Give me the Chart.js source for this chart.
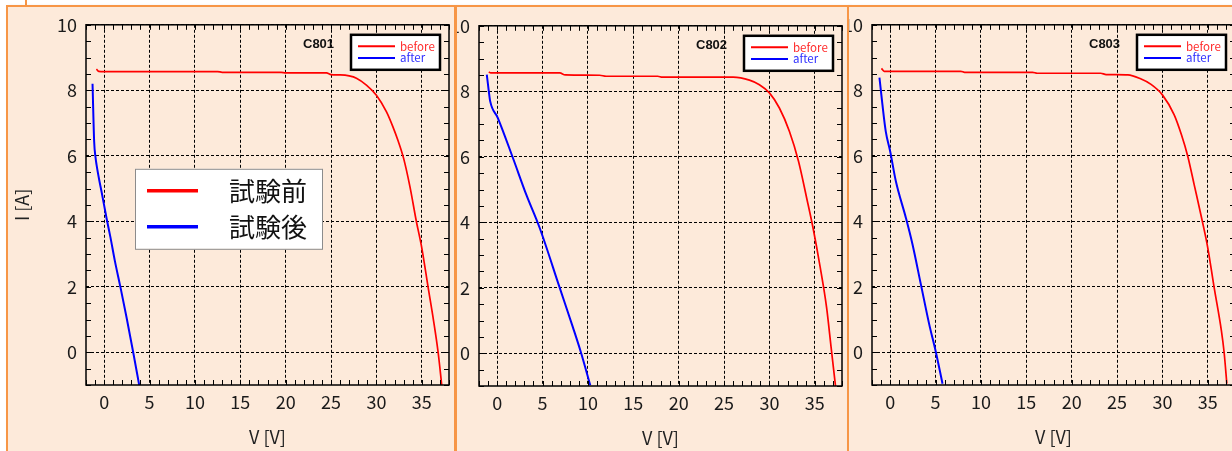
<!DOCTYPE html>
<html>
<head>
<meta charset="utf-8">
<script src="https://cdn.jsdelivr.net/npm/chart.js@4.4.1/dist/chart.umd.min.js"></script>
<style>
  html, body { margin: 0; padding: 0; background: #fff; width: 1232px; height: 451px; overflow: hidden; }
  .panel { position: absolute; top: 5px; height: 460px; box-sizing: border-box; border: 2px solid #F79646;
           background: #FDEADA; overflow: hidden; box-shadow: 2px 1px 3px rgba(0,0,0,0.12); }
  .panel canvas { position: absolute; }
  #stub { position: absolute; left: 25px; top: 0; width: 2px; height: 6px; background: #F79646; }
</style>
</head>
<body>
<div id="stub"></div>
<div class="panel" style="left:6px;width:450px;"><canvas id="c801" width="450" height="446" style="left:-2px;top:-2px;"></canvas></div>
<div class="panel" style="left:455px;width:394px;"><canvas id="c802" width="450" height="446" style="left:-58px;top:-1px;"></canvas></div>
<div class="panel" style="left:847px;width:400px;"><canvas id="c803" width="450" height="446" style="left:-57px;top:-2px;"></canvas></div>
<script>
// Axis ranges, tick values and labels
const vRange = [-2, 38];
const iRange = [-1, 10];
const vTicks = [0, 5, 10, 15, 20, 25, 30, 35];
const iTicks = [0, 2, 4, 6, 8, 10];
const vTitle = 'V [V]';
const iTitle = 'I [A]';
const panelNames = ['C801', 'C802', 'C803'];
const seriesNames = ['before', 'after'];
const jpSeriesNames = ['試験前', '試験後'];

// C801 I-V curves
const v801Before = [-0.85, -0.6, 0, 5, 10, 12.5, 13, 19.5, 20, 24.5, 25, 26, 27, 27.8, 28.9, 30.0, 31.1, 31.8, 32.4, 33.0, 33.7, 34.4, 35.0, 35.7, 36.3, 36.8, 37.2];
const i801Before = [8.65, 8.58, 8.57, 8.57, 8.57, 8.57, 8.55, 8.55, 8.53, 8.53, 8.48, 8.47, 8.44, 8.37, 8.16, 7.85, 7.35, 6.9, 6.45, 5.92, 5.05, 4.0, 3.19, 1.98, 0.96, 0.0, -1.0];
const v801After = [-1.28, -1.1, -0.95, -0.84, -0.5, -0.29, 0.26, 0.7, 1.18, 1.8, 2.47, 3.2, 3.86];
const i801After = [8.2, 6.43, 5.95, 5.73, 5.2, 4.91, 4.1, 3.5, 2.79, 1.98, 1.06, 0.0, -1.0];

// C802 I-V curves
const v802Before = [-0.92, -0.7, 6.9, 7.5, 11.3, 12, 17.7, 18.2, 26, 27.8, 28.9, 30.0, 31.1, 32.2, 33.2, 34.1, 34.8, 35.6, 36.3, 36.8, 37.3];
const i802Before = [8.59, 8.56, 8.56, 8.5, 8.49, 8.46, 8.46, 8.43, 8.43, 8.34, 8.2, 7.95, 7.49, 6.78, 5.87, 4.75, 3.84, 2.62, 1.40, 0.18, -1.04];
const v802After = [-1.14, -0.92, -0.77, 0.07, 1.73, 3.2, 4.67, 6.88, 8.35, 9.26, 10.26];
const i802After = [8.51, 8.0, 7.7, 7.19, 5.97, 4.85, 3.84, 2.01, 0.79, 0.0, -0.98];

// C803 I-V curves
const v803Before = [-0.96, -0.66, 7.8, 8.2, 15.7, 16.2, 23.2, 23.8, 26.2, 27.6, 28.75, 30.0, 31.3, 32.1, 32.8, 33.5, 34.4, 35.0, 35.7, 36.5, 36.8, 37.1];
const i803Before = [8.67, 8.58, 8.58, 8.55, 8.55, 8.52, 8.52, 8.48, 8.47, 8.35, 8.18, 7.86, 7.25, 6.64, 5.98, 5.12, 4.0, 3.19, 1.98, 0.66, 0.0, -0.96];
const v803After = [-1.18, -0.85, -0.48, 0, 0.63, 1.73, 2.46, 3.38, 4.3, 5.04, 5.77];
const i803After = [8.39, 7.56, 6.74, 6.14, 5.22, 4.11, 3.3, 2.08, 0.86, 0.0, -0.96];

const FONT = '"Noto Sans CJK JP", "Liberation Sans", sans-serif';
const RED = '#ff0000';
const BLUE = '#0000ff';

function toPoints(vs, is) {
  return vs.map((v, k) => ({ x: v, y: is[k] }));
}

// Inner tick marks, plot frame, curve name and legends
const frameDecor = {
  id: 'frameDecor',
  afterDraw(chart, args, o) {
    const { ctx, chartArea: a, scales: { x, y } } = chart;
    ctx.save();
    ctx.strokeStyle = '#000';
    ctx.lineWidth = 1;
    ctx.beginPath();
    for (let v = Math.ceil(x.min); v <= x.max + 1e-9; v += o.vMinor) {
      const p = Math.round(x.getPixelForValue(v)) + 0.5;
      ctx.moveTo(p, a.bottom); ctx.lineTo(p, a.bottom - o.tickLen);
      ctx.moveTo(p, a.top); ctx.lineTo(p, a.top + o.tickLen);
    }
    for (let v = y.min; v <= y.max + 1e-9; v += o.iMinor) {
      const p = Math.round(y.getPixelForValue(v)) + 0.5;
      ctx.moveTo(a.left, p); ctx.lineTo(a.left + o.tickLen, p);
      ctx.moveTo(a.right, p); ctx.lineTo(a.right - o.tickLen, p);
    }
    ctx.stroke();
    ctx.lineWidth = 1.5;
    ctx.strokeRect(a.left, a.top, a.right - a.left, a.bottom - a.top);

    // curve name
    ctx.font = 'bold 13px "Liberation Sans", Arial, sans-serif';
    ctx.fillStyle = '#111';
    ctx.textAlign = 'left';
    ctx.textBaseline = 'middle';
    ctx.fillText(o.name, a.left + 217, a.top + 20);

    // small legend
    const bx = a.left + 265, by = a.top + 10;
    ctx.fillStyle = '#fff';
    ctx.fillRect(bx, by, 89, 35);
    ctx.lineWidth = 2.5;
    ctx.strokeStyle = '#000';
    ctx.strokeRect(bx, by, 89, 35);
    ctx.font = '11.5px ' + FONT;
    chart.data.datasets.forEach((ds, k) => {
      const ly = a.top + 21.5 + k * 11.7;
      ctx.strokeStyle = ds.borderColor;
      ctx.lineWidth = 2;
      ctx.beginPath();
      ctx.moveTo(a.left + 272, ly); ctx.lineTo(a.left + 309, ly);
      ctx.stroke();
      ctx.fillStyle = ds.labelColor;
      ctx.fillText(ds.label, a.left + 314, ly);
    });

    // Japanese legend
    if (o.bigLegend) {
      const gx = a.left + 49, gy = a.top + 144;
      ctx.fillStyle = '#fff';
      ctx.fillRect(gx, gy, 187, 80);
      ctx.lineWidth = 1;
      ctx.strokeStyle = '#8c8c8c';
      ctx.strokeRect(gx + 0.5, gy + 0.5, 187, 80);
      ctx.font = '26px ' + FONT;
      chart.data.datasets.forEach((ds, k) => {
        const ly = a.top + 166 + k * 36;
        ctx.strokeStyle = ds.borderColor;
        ctx.lineWidth = 3.5;
        ctx.beginPath();
        ctx.moveTo(a.left + 61, ly); ctx.lineTo(a.left + 112, ly);
        ctx.stroke();
        ctx.fillStyle = '#111';
        ctx.fillText(jpSeriesNames[k], a.left + 143, ly);
      });
    }
    ctx.restore();
  }
};

function makeChart(id, name, vb, ib, va, ia, bigLegend) {
  const tickFont = { family: FONT, size: 18 };
  return new Chart(document.getElementById(id), {
    type: 'scatter',
    data: {
      datasets: [
        { label: seriesNames[0], data: toPoints(vb, ib), showLine: true, borderColor: RED, labelColor: '#ff2a2a',
          borderWidth: 1.7, pointRadius: 0, cubicInterpolationMode: 'monotone' },
        { label: seriesNames[1], data: toPoints(va, ia), showLine: true, borderColor: BLUE, labelColor: '#3030ff',
          borderWidth: 2, pointRadius: 0, cubicInterpolationMode: 'monotone' }
      ]
    },
    options: {
      responsive: false,
      animation: false,
      devicePixelRatio: 1,
      layout: { padding: { left: 0, top: 18, right: 7, bottom: 0 } },
      plugins: {
        legend: { display: false },
        tooltip: { enabled: false },
        frameDecor: { name: name, bigLegend: bigLegend, tickLen: 5, vMinor: 1, iMinor: 0.5 }
      },
      scales: {
        x: {
          type: 'linear', min: vRange[0], max: vRange[1],
          afterBuildTicks(scale) { scale.ticks = vTicks.map(v => ({ value: v })); },
          ticks: { font: tickFont, color: '#1a1a1a', padding: 6, maxRotation: 0, autoSkip: false },
          grid: { color: '#000', lineWidth: 1, drawTicks: false },
          border: { display: false, dash: [3, 2] },
          title: { display: true, text: vTitle, font: tickFont, color: '#222', padding: { top: 0, bottom: 3 } },
          afterFit(scale) { scale.height = 66; }
        },
        y: {
          type: 'linear', min: iRange[0], max: iRange[1],
          afterBuildTicks(scale) { scale.ticks = iTicks.map(v => ({ value: v })); },
          ticks: { font: tickFont, color: '#1a1a1a', padding: 9 },
          grid: { color: '#000', lineWidth: 1, drawTicks: false },
          border: { display: false, dash: [3, 2] },
          title: { display: true, text: iTitle, font: tickFont, color: '#222', padding: { top: 5, bottom: 0 } },
          afterFit(scale) { scale.width = 80; }
        }
      }
    },
    plugins: [frameDecor]
  });
}

makeChart('c801', panelNames[0], v801Before, i801Before, v801After, i801After, true);
makeChart('c802', panelNames[1], v802Before, i802Before, v802After, i802After, false);
makeChart('c803', panelNames[2], v803Before, i803Before, v803After, i803After, false);
</script>
</body>
</html>
